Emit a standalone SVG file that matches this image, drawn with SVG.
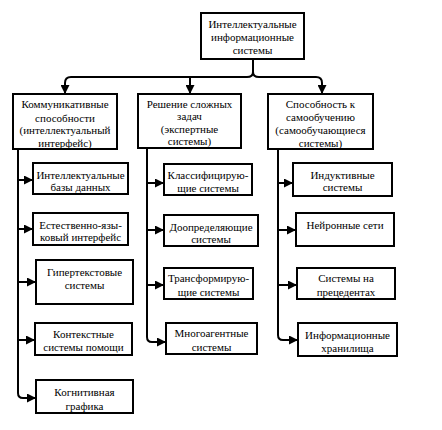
<svg xmlns="http://www.w3.org/2000/svg" width="442" height="430" viewBox="0 0 442 430">
<style>
.box{fill:#fff;stroke:#000;stroke-width:2}
.ln{fill:none;stroke:#000;stroke-width:2}
.t text{font-size:11px;text-anchor:middle;fill:#000}
</style>
<defs>
<marker id="ah" markerUnits="userSpaceOnUse" markerWidth="9" markerHeight="9" viewBox="0 0 9 9" refX="9" refY="4.5" orient="auto">
<path d="M0,0 L9,4.5 L0,9 z" fill="#000"/>
</marker>
</defs>
<rect width="442" height="430" fill="#fff"/>
<g id="connectors">
<path class="ln" d="M253,59 V72 Q253,77 247,77 H71 Q65,77 65,83 V94" marker-end="url(#ah)"/>
<path class="ln" d="M253,72 Q253,77 259,77 H316 Q322,77 322,83 V94" marker-end="url(#ah)"/>
<path class="ln" d="M190,77 V94" marker-end="url(#ah)"/>
<path class="ln" d="M18,149 V393 Q18,398 23,398 H36" marker-end="url(#ah)"/>
<path class="ln" d="M18,180 H33" marker-end="url(#ah)"/>
<path class="ln" d="M18,229 H33" marker-end="url(#ah)"/>
<path class="ln" d="M18,282 H36" marker-end="url(#ah)"/>
<path class="ln" d="M18,340 H35" marker-end="url(#ah)"/>
<path class="ln" d="M147,148 V337 Q147,342 152,342 H166" marker-end="url(#ah)"/>
<path class="ln" d="M147,183 H164" marker-end="url(#ah)"/>
<path class="ln" d="M147,230 H164" marker-end="url(#ah)"/>
<path class="ln" d="M147,285 H164" marker-end="url(#ah)"/>
<path class="ln" d="M278,149 V335 Q278,340 283,340 H298" marker-end="url(#ah)"/>
<path class="ln" d="M278,183 H293" marker-end="url(#ah)"/>
<path class="ln" d="M278,230 H296" marker-end="url(#ah)"/>
<path class="ln" d="M278,285 H297" marker-end="url(#ah)"/>
</g>
<g class="t" font-family="Liberation Serif, Times New Roman, serif">
<g id="root">
<rect class="box" x="201" y="13" width="103" height="46"/>
<text x="252.5" y="28">Интеллектуальные</text>
<text x="252.5" y="41">информационные</text>
<text x="252.5" y="54">системы</text>
</g>
<g id="comm">
<rect class="box" x="13" y="94" width="104" height="55"/>
<text x="65" y="108">Коммуникативные</text>
<text x="65" y="122">способности</text>
<text x="65" y="134">(интеллектуальный</text>
<text x="65" y="147">интерфейс)</text>
</g>
<g id="tasks">
<rect class="box" x="138" y="94" width="103" height="54"/>
<text x="189.5" y="108">Решение сложных</text>
<text x="189.5" y="120">задач</text>
<text x="189.5" y="133">(экспертные</text>
<text x="189.5" y="145">системы)</text>
</g>
<g id="selflearn">
<rect class="box" x="268" y="94" width="105" height="55"/>
<text x="320.5" y="108">Способность к</text>
<text x="320.5" y="121">самообучению</text>
<text x="320.5" y="134">(самообучающиеся</text>
<text x="320.5" y="147">системы)</text>
</g>
<g id="kb">
<rect class="box" x="33" y="163" width="95" height="31"/>
<text x="80.5" y="179">Интеллектуальные</text>
<text x="80.5" y="191">базы данных</text>
</g>
<g id="nli">
<rect class="box" x="33" y="213" width="95" height="32"/>
<text x="80.5" y="229">Естественно-язы-</text>
<text x="80.5" y="241">ковый интерфейс</text>
</g>
<g id="hyper">
<rect class="box" x="36" y="260" width="97" height="44"/>
<text x="84.5" y="276">Гипертекстовые</text>
<text x="84.5" y="289">системы</text>
</g>
<g id="context">
<rect class="box" x="35" y="323" width="97" height="32"/>
<text x="83.5" y="338">Контекстные</text>
<text x="83.5" y="351">системы помощи</text>
</g>
<g id="cogn">
<rect class="box" x="36" y="380" width="97" height="33"/>
<text x="84.5" y="396">Когнитивная</text>
<text x="84.5" y="410">графика</text>
</g>
<g id="classif">
<rect class="box" x="164" y="164" width="88" height="31"/>
<text x="208" y="179">Классифицирую-</text>
<text x="208" y="192">щие системы</text>
</g>
<g id="dooprede">
<rect class="box" x="164" y="215" width="94" height="31"/>
<text x="211" y="231">Доопределяющие</text>
<text x="211" y="243">системы</text>
</g>
<g id="transform">
<rect class="box" x="164" y="268" width="89" height="31"/>
<text x="208.5" y="282">Трансформирую-</text>
<text x="208.5" y="296">щие системы</text>
</g>
<g id="multiagent">
<rect class="box" x="166" y="323" width="91" height="31"/>
<text x="211.5" y="337">Многоагентные</text>
<text x="211.5" y="351">системы</text>
</g>
<g id="induct">
<rect class="box" x="293" y="163" width="99" height="33"/>
<text x="342.5" y="179">Индуктивные</text>
<text x="342.5" y="191">системы</text>
</g>
<g id="neural">
<rect class="box" x="296" y="213" width="98" height="33"/>
<text x="345" y="229">Нейронные сети</text>
</g>
<g id="precedent">
<rect class="box" x="297" y="268" width="98" height="31"/>
<text x="346" y="282">Системы на</text>
<text x="346" y="296">прецедентах</text>
</g>
<g id="storage">
<rect class="box" x="298" y="323" width="99" height="33"/>
<text x="347.5" y="339">Информационные</text>
<text x="347.5" y="352">хранилища</text>
</g>
</g>
</svg>
